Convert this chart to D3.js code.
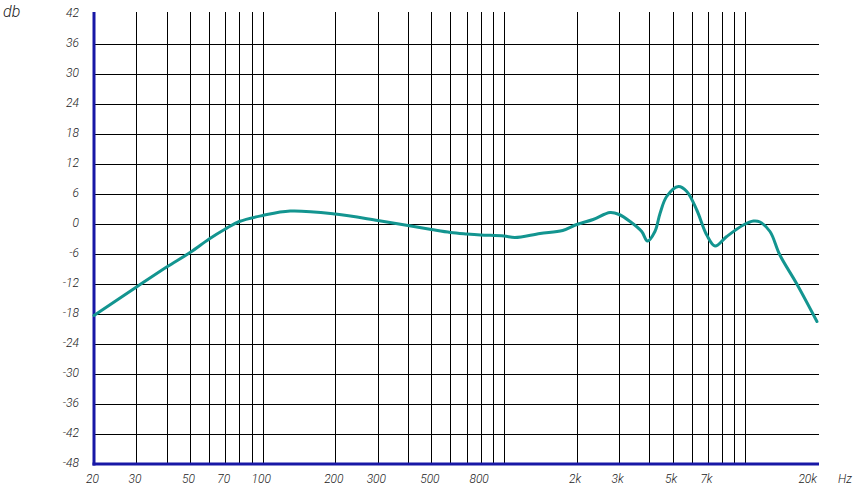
<!DOCTYPE html>
<html>
<head>
<meta charset="utf-8">
<script src="https://cdn.jsdelivr.net/npm/d3@7"></script>
<style>
  body { margin: 0; background: #fff; }
  text { font-family: Roboto, "DejaVu Sans Condensed", sans-serif; font-style: italic; font-weight: 300; fill: #222; }
</style>
</head>
<body>
<svg></svg>
<script>
const width = 855;
const height = 488;

// frequency response, Hz / dB
const freqs = [20, 30, 40, 50, 60, 70, 80, 100, 130, 200, 300, 400, 500, 600, 700, 800, 1000, 1110,
  1410, 1750, 2000, 2340, 2750, 3000, 3330, 3720, 3930, 4220, 4430, 4720, 5280, 5720, 6290, 6920,
  7490, 8370, 9810, 10800, 11500, 12650, 13900, 16300, 19800];
const levels = [-18.3, -12.6, -8.6, -5.7, -3.0, -1.0, 0.5, 1.7, 2.6, 2.0, 0.7, -0.3, -1.1, -1.7, -2.0, -2.2, -2.4, -2.7,
  -1.9, -1.3, -0.1, 0.9, 2.3, 1.9, 0.5, -1.5, -3.4, -1.5, 2.1, 5.5, 7.5, 6.5, 2.8, -2.2,
  -4.4, -2.5, -0.2, 0.6, 0.4, -1.5, -6.2, -11.9, -19.5];

const gridFreqs = [30, 40, 50, 60, 70, 80, 90, 100, 200, 300, 400, 500, 600, 700, 800, 900, 1000,
  2000, 3000, 4000, 5000, 6000, 7000, 8000, 9000, 10000];
const freqTicks = [20, 30, 50, 70, 100, 200, 300, 500, 800, 2000, 3000, 5000, 7000, 20000];
const freqLabels = ['20', '30', '50', '70', '100', '200', '300', '500', '800', '2k', '3k', '5k', '7k', '20k'];
const dbTicks = d3.range(42, -49, -6);

const margin = { left: 94, right: 37, top: 14, bottom: 24 };

const svg = d3.select('svg')
  .attr('width', width)
  .attr('height', height);

const x = d3.scaleLog()
  .domain([20, 20000])
  .range([margin.left, width - margin.right]);

const y = d3.scaleLinear()
  .domain([-48, 42])
  .range([height - margin.bottom, margin.top]);

// horizontal grid
svg.append('g')
  .selectAll('line')
  .data(dbTicks.filter((d) => d < 42 && d > -48))
  .enter().append('line')
  .attr('x1', x(20))
  .attr('x2', x(20000) + 1)
  .attr('y1', (d) => Math.round(y(d)) + 0.5)
  .attr('y2', (d) => Math.round(y(d)) + 0.5)
  .attr('stroke', '#000')
  .attr('stroke-width', 1);

// vertical grid
svg.append('g')
  .selectAll('line')
  .data(gridFreqs)
  .enter().append('line')
  .attr('x1', (d) => Math.round(x(d)) + 0.5)
  .attr('x2', (d) => Math.round(x(d)) + 0.5)
  .attr('y1', y(42) - 2)
  .attr('y2', y(-48))
  .attr('stroke', '#000')
  .attr('stroke-width', 1);

// axes
svg.append('line')
  .attr('x1', x(20)).attr('x2', x(20))
  .attr('y1', y(42) - 2).attr('y2', y(-48) + 1.5)
  .attr('stroke', '#1818a6')
  .attr('stroke-width', 3);

svg.append('line')
  .attr('x1', x(20) - 1.5).attr('x2', x(20000) + 1)
  .attr('y1', y(-48)).attr('y2', y(-48))
  .attr('stroke', '#1818a6')
  .attr('stroke-width', 3);

// tick labels
svg.append('g')
  .selectAll('text')
  .data(dbTicks)
  .enter().append('text')
  .attr('x', 79)
  .attr('y', (d) => y(d) - 1)
  .attr('dy', '0.35em')
  .attr('text-anchor', 'end')
  .attr('font-size', 12)
  .text((d) => d);

svg.append('g')
  .selectAll('text')
  .data(freqTicks)
  .enter().append('text')
  .attr('x', (d) => d === 20000 ? x(d) - 1 : x(d) - 1.5)
  .attr('y', 483)
  .attr('text-anchor', (d) => d === 20000 ? 'end' : 'middle')
  .attr('font-size', 12)
  .text((d, i) => freqLabels[i]);

svg.append('text')
  .attr('x', 845)
  .attr('y', 483)
  .attr('text-anchor', 'middle')
  .attr('font-size', 12)
  .text('Hz');

svg.append('text')
  .attr('x', 3)
  .attr('y', 17)
  .attr('font-size', 16)
  .text('db');

// response curve
const line = d3.line()
  .x((d, i) => x(freqs[i]))
  .y((d) => y(d))
  .curve(d3.curveCatmullRom.alpha(0.5));

svg.append('path')
  .datum(levels)
  .attr('d', line)
  .attr('fill', 'none')
  .attr('stroke', '#139590')
  .attr('stroke-width', 3)
  .attr('stroke-linejoin', 'round')
  .attr('stroke-linecap', 'round');
</script>
</body>
</html>
